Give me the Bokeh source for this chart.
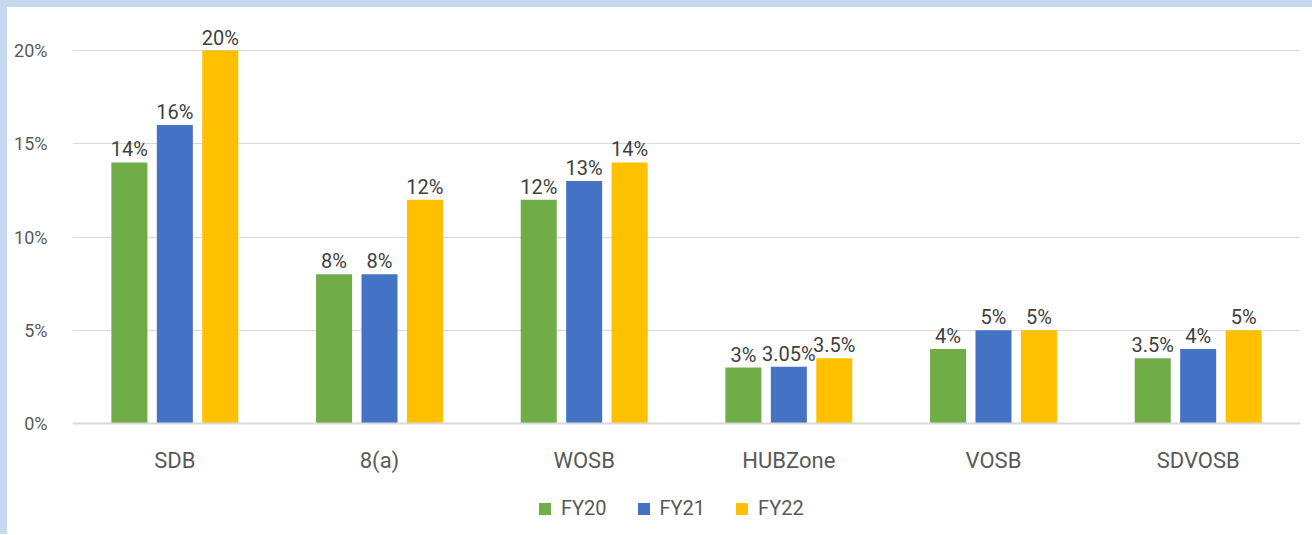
from bokeh.plotting import figure
from bokeh.models import ColumnDataSource, FactorRange, Legend, LegendItem, FixedTicker, Div
from bokeh.layouts import column, row
from bokeh.transform import dodge
from bokeh.core.properties import value
from bokeh.embed import file_html
from bokeh.resources import INLINE

categories = ["SDB", "8(a)", "WOSB", "HUBZone", "VOSB", "SDVOSB"]
series = ["FY20", "FY21", "FY22"]
fy20 = [14, 8, 12, 3, 4, 3.5]
fy21 = [16, 8, 13, 3.05, 5, 4]
fy22 = [20, 12, 14, 3.5, 5, 5]
y_ticks = [0, 5, 10, 15, 20]
y_tick_labels = ["0%", "5%", "10%", "15%", "20%"]

colors = ["#70AD47", "#4472C4", "#FFC000"]
FONT = "Roboto"
TXT = "#595959"
EDGE = "#C6D9F1"

def fmt(v):
    return f"{v:g}%"

src = ColumnDataSource(dict(
    cat=categories,
    fy20=fy20, fy21=fy21, fy22=fy22,
    l20=[fmt(v) for v in fy20],
    l21=[fmt(v) for v in fy21],
    l22=[fmt(v) for v in fy22],
))

p = figure(
    x_range=FactorRange(*categories, range_padding=0, factor_padding=0),
    y_range=(-5.95, 21.877),
    width=1304, height=527,
    output_backend="svg", toolbar_location=None,
    min_border_left=65, min_border_right=11, min_border_top=8, min_border_bottom=0,
)
p.outline_line_color = None
p.background_fill_color = "white"
p.border_fill_color = "white"

offsets = [-0.222, 0.0, 0.222]
keys = ["fy20", "fy21", "fy22"]
lkeys = ["l20", "l21", "l22"]
renderers = []
for off, k, lk, c in zip(offsets, keys, lkeys, colors):
    r = p.vbar(x=dodge("cat", off, range=p.x_range), top=k, width=0.176, bottom=0,
               source=src, fill_color=c, line_color=None)
    renderers.append(r)
    p.text(x=dodge("cat", off, range=p.x_range), y=k, text=lk, source=src,
           text_align="center", text_baseline="bottom", y_offset=-1,
           text_font=value(FONT), text_font_size="20px", text_color="#404040")

p.yaxis.ticker = FixedTicker(ticks=y_ticks)
p.yaxis.major_label_overrides = {t: l for t, l in zip(y_ticks, y_tick_labels)}
p.yaxis.axis_line_color = None
p.yaxis.major_tick_line_color = None
p.yaxis.minor_tick_line_color = None
p.yaxis.major_label_standoff = 19
p.yaxis.major_label_text_font = FONT
p.yaxis.major_label_text_font_size = "18px"
p.yaxis.major_label_text_color = TXT

p.xaxis.fixed_location = 0
p.xaxis.axis_line_color = "#D9D9D9"
p.xaxis.axis_line_width = 2
p.xaxis.major_tick_line_color = None
p.xaxis.minor_tick_line_color = None
p.xaxis.major_label_standoff = 18
p.xaxis.major_label_text_font = FONT
p.xaxis.major_label_text_font_size = "22px"
p.xaxis.major_label_text_color = TXT

p.xgrid.grid_line_color = None
p.ygrid.grid_line_color = "#D9D9D9"
p.ygrid.grid_line_width = 1

legend = Legend(
    items=[LegendItem(label=s, renderers=[r]) for s, r in zip(series, renderers)],
    orientation="horizontal", location=(465, 14),
    label_text_font=FONT, label_text_font_size="20px", label_text_color=TXT,
    glyph_width=15, glyph_height=15, spacing=29, label_standoff=9,
    border_line_color=None, background_fill_alpha=0, margin=0, padding=4,
)
p.add_layout(legend, "center")

top_bar = Div(text="", width=1312, height=7, margin=0, styles={"background-color": EDGE})
left_bar = Div(text="", width=7, height=527, margin=0, styles={"background-color": EDGE})
layout = column(top_bar, row(left_bar, p, spacing=0), spacing=0)

open("out.html", "w").write(file_html(layout, INLINE))
